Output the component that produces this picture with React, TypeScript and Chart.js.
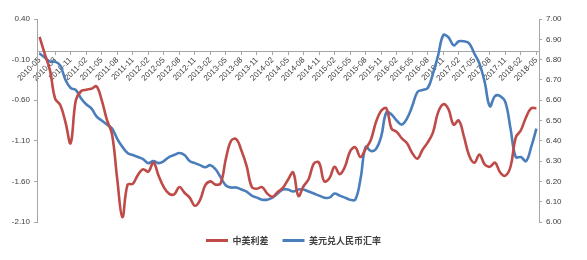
import React, { useEffect, useRef } from 'react';
import { Chart, registerables } from 'chart.js';

Chart.register(...registerables);

const categories: string[] = [
  '2010-05','2010-06','2010-07','2010-08','2010-09','2010-10','2010-11','2010-12',
  '2011-01','2011-02','2011-03','2011-04','2011-05','2011-06','2011-07','2011-08','2011-09','2011-10','2011-11','2011-12',
  '2012-01','2012-02','2012-03','2012-04','2012-05','2012-06','2012-07','2012-08','2012-09','2012-10','2012-11','2012-12',
  '2013-01','2013-02','2013-03','2013-04','2013-05','2013-06','2013-07','2013-08','2013-09','2013-10','2013-11','2013-12',
  '2014-01','2014-02','2014-03','2014-04','2014-05','2014-06','2014-07','2014-08','2014-09','2014-10','2014-11','2014-12',
  '2015-01','2015-02','2015-03','2015-04','2015-05','2015-06','2015-07','2015-08','2015-09','2015-10','2015-11','2015-12',
  '2016-01','2016-02','2016-03','2016-04','2016-05','2016-06','2016-07','2016-08','2016-09','2016-10','2016-11','2016-12',
  '2017-01','2017-02','2017-03','2017-04','2017-05','2017-06','2017-07','2017-08','2017-09','2017-10','2017-11','2017-12',
  '2018-01','2018-02','2018-03','2018-04','2018-05',
];

const spreadLabel = '中美利差';
const spreadValues: number[] = [
  0.18, -0.03, -0.23, -0.58, -0.66, -0.87, -1.13, -0.60,
  -0.49, -0.47, -0.46, -0.43, -0.60, -0.84, -1.02, -1.57, -2.04, -1.64, -1.63, -1.52,
  -1.45, -1.48, -1.37, -1.53, -1.67, -1.75, -1.76, -1.67, -1.74, -1.80, -1.90, -1.83,
  -1.65, -1.60, -1.64, -1.62, -1.32, -1.10, -1.08, -1.22, -1.41, -1.67, -1.69, -1.67,
  -1.75, -1.79, -1.73, -1.68, -1.58, -1.49, -1.78, -1.66, -1.57, -1.38, -1.37, -1.60,
  -1.56, -1.42, -1.51, -1.42, -1.23, -1.18, -1.30, -1.20, -1.09, -0.87, -0.73, -0.70,
  -0.95, -0.99, -1.07, -1.13, -1.25, -1.32, -1.21, -1.12, -1.00, -0.75, -0.65, -0.71,
  -0.90, -0.85, -1.05, -1.28, -1.37, -1.27, -1.39, -1.42, -1.37, -1.49, -1.53, -1.42,
  -1.06, -0.97, -0.81, -0.70, -0.70,
];

const fxLabel = '美元兑人民币汇率';
const fxValues: number[] = [
  6.83, 6.81, 6.79, 6.79, 6.77, 6.70, 6.66, 6.65,
  6.61, 6.58, 6.56, 6.52, 6.50, 6.48, 6.46, 6.41, 6.37, 6.34, 6.33, 6.32,
  6.31, 6.29, 6.30, 6.29, 6.30, 6.32, 6.33, 6.34, 6.33, 6.30, 6.29, 6.28,
  6.27, 6.28, 6.26, 6.22, 6.18, 6.17, 6.17, 6.16, 6.15, 6.13, 6.12, 6.11,
  6.11, 6.12, 6.14, 6.16, 6.16, 6.15, 6.16, 6.16, 6.15, 6.14, 6.13, 6.12,
  6.12, 6.14, 6.13, 6.12, 6.11, 6.11, 6.21, 6.37, 6.35, 6.36, 6.42, 6.54,
  6.53, 6.50, 6.48, 6.51, 6.57, 6.64, 6.65, 6.66, 6.73, 6.82, 6.92, 6.91,
  6.87, 6.89, 6.89, 6.88, 6.83, 6.78, 6.69, 6.57, 6.62, 6.62, 6.59, 6.46,
  6.32, 6.32, 6.30, 6.37, 6.46,
];

const leftTicks: number[] = [-2.1, -1.6, -1.1, -0.6, -0.1, 0.4];
const rightTicks: number[] = [6.0, 6.1, 6.2, 6.3, 6.4, 6.5, 6.6, 6.7, 6.8, 6.9, 7.0];
const labelEvery = 3;

const RED = '#BE4B48';
const BLUE = '#4A7EBB';
const AXIS = '#A6A6A6';
const TEXT = '#404040';
const FONT = "'Liberation Sans', Arial, sans-serif";

export default function App() {
  const canvasRef = useRef<HTMLCanvasElement | null>(null);

  useEffect(() => {
    if (!canvasRef.current) return;
    const chart = new Chart(canvasRef.current, {
      type: 'line',
      data: {
        labels: categories,
        datasets: [
          {
            label: spreadLabel,
            data: spreadValues,
            yAxisID: 'y',
            borderColor: RED,
            backgroundColor: RED,
            borderWidth: 2.6,
            pointRadius: 0,
            tension: 0.4,
            fill: false,
          },
          {
            label: fxLabel,
            data: fxValues,
            yAxisID: 'y1',
            borderColor: BLUE,
            backgroundColor: BLUE,
            borderWidth: 2.6,
            pointRadius: 0,
            tension: 0.4,
            fill: false,
          },
        ],
      },
      options: {
        animation: false,
        responsive: true,
        maintainAspectRatio: false,
        layout: { padding: { top: 19, bottom: 5, left: 0, right: 0 } },
        plugins: {
          tooltip: { enabled: false },
          legend: {
            position: 'bottom',
            labels: {
              boxWidth: 22,
              boxHeight: 3,
              padding: 14,
              color: TEXT,
              font: { family: "'Noto Sans CJK SC', sans-serif", size: 9, weight: 'bold' },
              generateLabels: (c: any) =>
                c.data.datasets.map((ds: any, i: number) => ({
                  text: ds.label,
                  fillStyle: ds.borderColor,
                  strokeStyle: ds.borderColor,
                  lineWidth: 0,
                  hidden: false,
                  datasetIndex: i,
                  fontColor: TEXT,
                })),
            },
          },
        },
        scales: {
          x: {
            type: 'category',
            offset: true,
            position: { y: 0 } as any,
            border: { display: true, color: AXIS, width: 1 },
            grid: {
              display: true,
              drawOnChartArea: false,
              drawTicks: true,
              tickLength: 3,
              offset: false,
              color: (ctx: any) => (ctx.index % labelEvery === 0 ? AXIS : 'rgba(0,0,0,0)'),
            },
            ticks: {
              autoSkip: false,
              maxRotation: 45,
              minRotation: 45,
              padding: 1,
              color: TEXT,
              font: { family: FONT, size: 8 },
              callback: (_v: any, index: number) =>
                index % labelEvery === 0 ? categories[index] : '',
            },
          },
          y: {
            type: 'linear',
            position: 'left',
            min: -2.1,
            max: 0.4,
            border: { display: true, color: AXIS, width: 1 },
            grid: { display: true, drawOnChartArea: false, drawTicks: true, tickLength: 3, color: AXIS },
            afterBuildTicks: (scale: any) => {
              scale.ticks = leftTicks.map((v) => ({ value: v }));
            },
            afterFit: (scale: any) => {
              scale.width = 37;
            },
            ticks: {
              padding: 4,
              color: TEXT,
              font: { family: FONT, size: 8 },
              callback: (v: any) => Number(v).toFixed(2),
            },
          },
          y1: {
            type: 'linear',
            position: 'right',
            min: 6.0,
            max: 7.0,
            border: { display: true, color: AXIS, width: 1 },
            grid: { display: true, drawOnChartArea: false, drawTicks: true, tickLength: 3, color: AXIS },
            afterBuildTicks: (scale: any) => {
              scale.ticks = rightTicks.map((v) => ({ value: v }));
            },
            afterFit: (scale: any) => {
              scale.width = 48;
            },
            ticks: {
              padding: 4,
              color: TEXT,
              font: { family: FONT, size: 8 },
              callback: (v: any) => Number(v).toFixed(2),
            },
          },
        },
      },
    } as any);
    return () => chart.destroy();
  }, []);

  return (
    <div style={{ position: 'absolute', left: 0, top: 0, width: 587, height: 260, background: '#fff' }}>
      <canvas ref={canvasRef} />
    </div>
  );
}
